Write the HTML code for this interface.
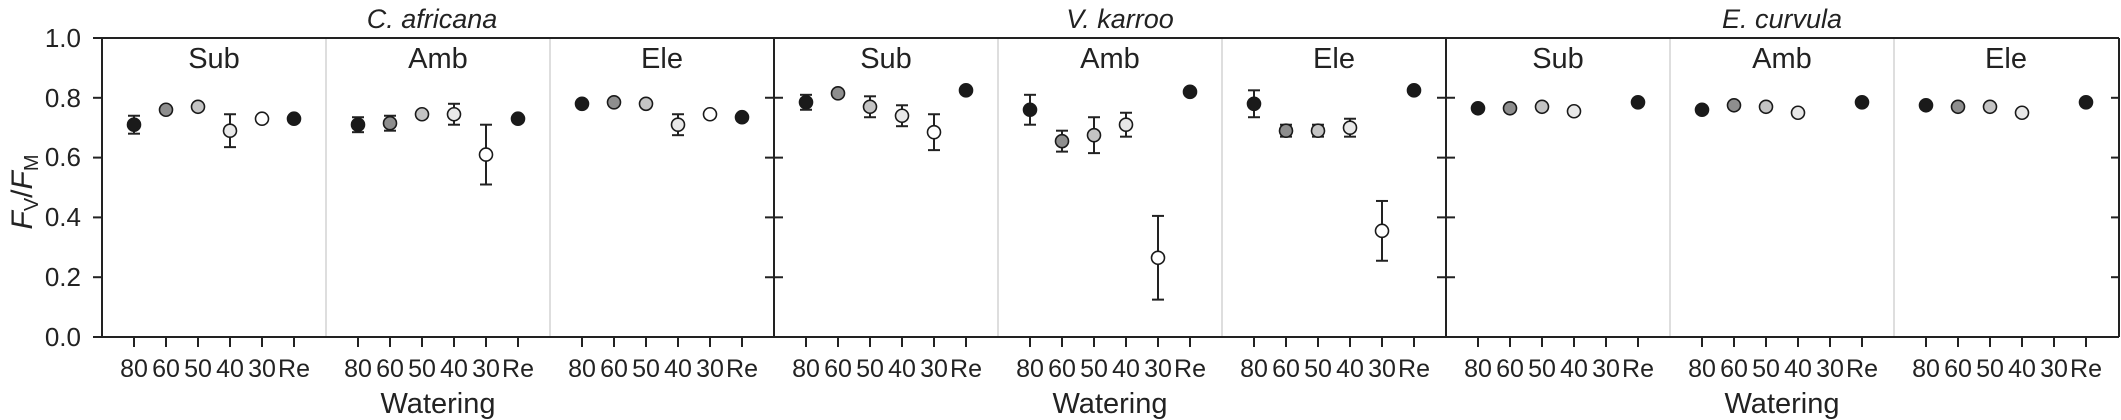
<!DOCTYPE html>
<html><head><meta charset="utf-8"><style>
html,body{margin:0;padding:0;background:#fff;}
svg{display:block;font-family:"Liberation Sans",Arial,sans-serif;}
</style></head><body>
<svg id="s" width="2121" height="420" viewBox="0 0 2121 420" xmlns="http://www.w3.org/2000/svg">
<g id="g"></g>
<g font-size="26" fill="#222" text-anchor="end">
<text x="81" y="47">1.0</text><text x="81" y="107">0.8</text><text x="81" y="166">0.6</text><text x="81" y="226">0.4</text><text x="81" y="286">0.2</text><text x="81" y="346">0.0</text>
</g>
<text transform="translate(32,192) rotate(-90)" font-size="30" fill="#222" text-anchor="middle"><tspan font-style="italic">F</tspan><tspan font-size="20" dy="6">V</tspan><tspan dy="-6">/</tspan><tspan font-style="italic">F</tspan><tspan font-size="20" dy="6">M</tspan></text>
<g font-size="27" font-style="italic" fill="#222" text-anchor="middle">
<text x="432" y="28">C. africana</text><text x="1120" y="28">V. karroo</text><text x="1782" y="28">E. curvula</text>
</g>
<g font-size="29" fill="#222" text-anchor="middle">
<text x="214" y="68">Sub</text><text x="438" y="68">Amb</text><text x="662" y="68">Ele</text>
<text x="886" y="68">Sub</text><text x="1110" y="68">Amb</text><text x="1334" y="68">Ele</text>
<text x="1558" y="68">Sub</text><text x="1782" y="68">Amb</text><text x="2006" y="68">Ele</text>
</g>
<g font-size="29" fill="#222" text-anchor="middle">
<text x="438" y="413">Watering</text><text x="1110" y="413">Watering</text><text x="1782" y="413">Watering</text>
</g>
<g font-size="25" fill="#222" text-anchor="middle">
<text x="134" y="377">80</text><text x="166" y="377">60</text><text x="198" y="377">50</text><text x="230" y="377">40</text><text x="262" y="377">30</text><text x="294" y="377">Re</text>
<text x="358" y="377">80</text><text x="390" y="377">60</text><text x="422" y="377">50</text><text x="454" y="377">40</text><text x="486" y="377">30</text><text x="518" y="377">Re</text>
<text x="582" y="377">80</text><text x="614" y="377">60</text><text x="646" y="377">50</text><text x="678" y="377">40</text><text x="710" y="377">30</text><text x="742" y="377">Re</text>
<text x="806" y="377">80</text><text x="838" y="377">60</text><text x="870" y="377">50</text><text x="902" y="377">40</text><text x="934" y="377">30</text><text x="966" y="377">Re</text>
<text x="1030" y="377">80</text><text x="1062" y="377">60</text><text x="1094" y="377">50</text><text x="1126" y="377">40</text><text x="1158" y="377">30</text><text x="1190" y="377">Re</text>
<text x="1254" y="377">80</text><text x="1286" y="377">60</text><text x="1318" y="377">50</text><text x="1350" y="377">40</text><text x="1382" y="377">30</text><text x="1414" y="377">Re</text>
<text x="1478" y="377">80</text><text x="1510" y="377">60</text><text x="1542" y="377">50</text><text x="1574" y="377">40</text><text x="1606" y="377">30</text><text x="1638" y="377">Re</text>
<text x="1702" y="377">80</text><text x="1734" y="377">60</text><text x="1766" y="377">50</text><text x="1798" y="377">40</text><text x="1830" y="377">30</text><text x="1862" y="377">Re</text>
<text x="1926" y="377">80</text><text x="1958" y="377">60</text><text x="1990" y="377">50</text><text x="2022" y="377">40</text><text x="2054" y="377">30</text><text x="2086" y="377">Re</text>
</g>
</svg>
<script>
(function(){
var NS="http://www.w3.org/2000/svg",g=document.getElementById("g");
function el(t,a){var e=document.createElementNS(NS,t);for(var k in a)e.setAttribute(k,a[k]);g.appendChild(e);return e;}
function Y(v){return 337-v*299;}
for(var s=1;s<9;s++){if(s%3==0)continue;var x=102+224*s;el("line",{x1:x,y1:38,x2:x,y2:337,stroke:"#d4d4d4","stroke-width":1.5});}
el("line",{x1:102,y1:38,x2:2119,y2:38,stroke:"#222","stroke-width":2});
el("line",{x1:102,y1:337,x2:2119,y2:337,stroke:"#222","stroke-width":2});
[102,774,1446].forEach(function(x){el("line",{x1:x,y1:38,x2:x,y2:337,stroke:"#222","stroke-width":2});});
el("line",{x1:2119,y1:38,x2:2119,y2:337,stroke:"#222","stroke-width":2});
for(var i=0;i<=5;i++){var y=Y(i*0.2);
 el("line",{x1:93,y1:y,x2:102,y2:y,stroke:"#222","stroke-width":2});
 if(i>0&&i<5){
 [774,1446].forEach(function(x){el("line",{x1:x-9,y1:y,x2:x+9,y2:y,stroke:"#222","stroke-width":2});});
 el("line",{x1:2111,y1:y,x2:2119,y2:y,stroke:"#222","stroke-width":2});}
}
for(var s=0;s<9;s++)for(var k=1;k<=6;k++){var x=102+224*s+32*k;el("line",{x1:x,y1:337,x2:x,y2:347,stroke:"#222","stroke-width":2});}
var fills=["#1a1a1a","#8e8e8e","#c4c4c4","#e8e8e8","#ffffff","#1a1a1a"];
var D=[
[[.71,.03],[.76,0],[.77,0],[.69,.055],[.73,0],[.73,0]],
[[.71,.025],[.715,.025],[.745,0],[.745,.035],[.61,.1],[.73,0]],
[[.78,0],[.785,0],[.78,0],[.71,.035],[.745,0],[.735,0]],
[[.785,.025],[.815,0],[.77,.035],[.74,.035],[.685,.06],[.825,0]],
[[.76,.05],[.655,.035],[.675,.06],[.71,.04],[.265,.14],[.82,0]],
[[.78,.045],[.69,.02],[.69,.02],[.70,.03],[.355,.1],[.825,0]],
[[.765,0],[.765,0],[.77,0],[.755,0],null,[.785,0]],
[[.76,0],[.775,0],[.77,0],[.75,0],null,[.785,0]],
[[.775,0],[.77,0],[.77,0],[.75,0],null,[.785,0]]];
D.forEach(function(p,s){p.forEach(function(d,k){if(!d)return;var x=102+224*s+32*(k+1),y=Y(d[0]);
 if(d[1]>0){var y1=Y(d[0]+d[1]),y2=Y(d[0]-d[1]);
  el("line",{x1:x,y1:y1,x2:x,y2:y2,stroke:"#222","stroke-width":2});
  el("line",{x1:x-6,y1:y1,x2:x+6,y2:y1,stroke:"#222","stroke-width":2});
  el("line",{x1:x-6,y1:y2,x2:x+6,y2:y2,stroke:"#222","stroke-width":2});}
 el("circle",{cx:x,cy:y,r:6.5,fill:fills[k],stroke:"#1a1a1a","stroke-width":1.6});
});});
})();
</script>
</body></html>
